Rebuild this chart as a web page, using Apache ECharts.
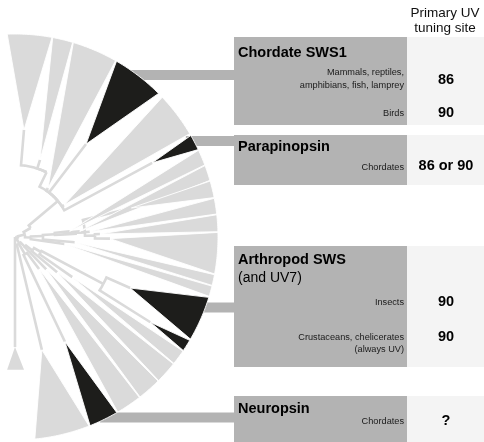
<!DOCTYPE html>
<html>
<head>
<meta charset="utf-8">
<script src="https://cdn.jsdelivr.net/npm/echarts@6/dist/echarts.min.js"></script>
<style>
  html, body { margin: 0; padding: 0; background: #ffffff; }
  #chart { width: 484px; height: 442px; }
</style>
</head>
<body>
<div id="chart"></div>
<script>
// Outer rim of the fan, in radius-axis units
const RIM = 203;

// Collapsed clades: [apexRadius, apexAngle, rimFrom, rimTo, highlighted]
const clades = [
  [107.4, 85.2, 92.2, 79.5, 0],
  [81, 72.0, 79.3, 73.5, 0],
  [59, 56.0, 73.3, 60.3, 0],
  [117, 52.6, 60.0, 45.0, 1],   // chordate SWS1
  [58.5, 33.1, 43.5, 30.6, 0],
  [156, 28.4, 30.0, 25.5, 1],   // parapinopsin
  [55, 6.0, 25.3, 20.8, 0],
  [65, 5.0, 20.6, 16.2, 0],
  [120, 14.0, 16.0, 11.2, 0],
  [75, 4.0, 11.0, 6.5, 0],
  [85, 2.0, 6.3, 1.5, 0],
  [95, -1.0, 1.3, -10.5, 0],
  [60, -5.0, -10.7, -13.8, 0],
  [50, -8.0, -14.0, -17.0, 0],
  [126, -23.9, -17.3, -30.2, 1], // insects
  [160, -32.2, -30.6, -34.0, 1], // crustaceans, chelicerates
  [70, -35.0, -34.2, -38.5, 0],
  [55, -40.0, -38.7, -45.0, 0],
  [45, -46.0, -45.2, -52.0, 0],
  [40, -53.0, -52.2, -59.6, 0],
  [116, -64.5, -59.9, -68.3, 1], // neuropsin
  [116, -76.6, -68.6, -84.4, 0]
];

// Tree branches: [parentRadius, parentAngle, childRadius, childAngle]
const branches = [
  [0, -90, 110, -90],
  [0, -90, 3, -20],
  [3, -20, 8, -55], [3, -20, 10, 15],
  // lower group
  [8, -55, 116, -76.6], [8, -55, 20, -60], [8, -55, 14, -45],
  [20, -60, 116, -64.5], [20, -60, 40, -53],
  [14, -45, 45, -46], [14, -45, 22, -38],
  [22, -38, 55, -40], [22, -38, 30, -30],
  [30, -30, 70, -35], [30, -30, 100, -28],
  [100, -28, 126, -23.9], [100, -28, 160, -32.2],
  // middle ladder
  [10, 15, 16, -2],
  [16, -2, 50, -8], [16, -2, 28, 2],
  [28, 2, 60, -5], [28, 2, 40, 4],
  [40, 4, 55, 6], [40, 4, 50, 3],
  [50, 3, 65, 5], [50, 3, 62, 3],
  [62, 3, 75, 4], [62, 3, 70, 4],
  [70, 4, 120, 14], [70, 4, 80, 1],
  [80, 1, 85, 2], [80, 1, 95, -1],
  // upper group
  [10, 15, 18, 30],
  [18, 30, 56, 40],
  [56, 40, 58.5, 33.1], [56, 40, 156, 28.4],
  [56, 40, 117, 52.6], [56, 40, 59, 56],
  [56, 40, 72, 64],
  [72, 64, 81, 72], [72, 64, 107.4, 85.2]
];

// Outgroup clade: [apexRadius, apexAngle, baseRadius, baseFrom, baseTo]
const outgroup = [[110, -90, 133, -93.4, -86.1]];

// Opsin groups and their primary UV tuning sites
const groupNames = ['Chordate SWS1', 'Parapinopsin', 'Arthropod SWS', 'Neuropsin'];
const groupNotes = ['', '', '(and UV7)', ''];
const subgroupLabels = [
  ['Mammals, reptiles,\namphibians, fish, lamprey', 'Birds'],
  ['Chordates'],
  ['Insects', 'Crustaceans, chelicerates\n(always UV)'],
  ['Chordates']
];
const tuningSites = [['86', '90'], ['86 or 90'], ['90', '90'], ['?']];
const siteHeader = 'Primary UV\ntuning site';

const GREY = '#dadada';
const BLACK = '#1d1d1b';
const BOX = '#b3b3b3';
const PANEL = '#f4f4f4';
const FONT = '"Liberation Sans", Arial, Helvetica, sans-serif';

const chart = echarts.init(document.getElementById('chart'), null, { renderer: 'canvas' });

function arcPoints(api, r, a0, a1, step) {
  const pts = [];
  const n = Math.max(1, Math.ceil(Math.abs(a1 - a0) / step));
  for (let i = 0; i <= n; i++) pts.push(api.coord([r, a0 + (a1 - a0) * i / n]));
  return pts;
}

function renderClade(params, api) {
  const pts = [api.coord([api.value(0), api.value(1)])]
    .concat(arcPoints(api, RIM, api.value(2), api.value(3), 0.5));
  return {
    type: 'polygon',
    shape: { points: pts },
    style: { fill: api.value(4) ? BLACK : GREY, stroke: '#ffffff', lineWidth: 0.9 }
  };
}

function renderBranch(params, api) {
  const pts = arcPoints(api, api.value(0), api.value(1), api.value(3), 1);
  pts.push(api.coord([api.value(2), api.value(3)]));
  return {
    type: 'polyline',
    shape: { points: pts },
    style: { stroke: GREY, lineWidth: 2.6, fill: null, lineJoin: 'miter' }
  };
}

function renderOutgroup(params, api) {
  return {
    type: 'polygon',
    shape: { points: [
      api.coord([api.value(0), api.value(1)]),
      api.coord([api.value(2), api.value(3)]),
      api.coord([api.value(2), api.value(4)])
    ] },
    style: { fill: GREY }
  };
}

// Right-hand panel layout (pixels)
const PANEL_X = 234, PANEL_SPLIT = 407, PANEL_END = 484;
const LABEL_RIGHT = 404, SITE_X = 446, TITLE_X = 238;
const boxLayout = [
  { top: 37, bottom: 125, link: 75, titleY: 53, rows: [
    { labelY: 78.5, lh: 13, siteY: 79.5 }, { labelY: 113, siteY: 112.5 }] },
  { top: 135, bottom: 185, link: 141, titleY: 147, rows: [
    { labelY: 167, siteY: 166 }] },
  { top: 246, bottom: 367, link: 307.5, titleY: 260, noteY: 278.5, rows: [
    { labelY: 302, siteY: 302 }, { labelY: 343.5, lh: 11.6, siteY: 337 }] },
  { top: 396, bottom: 446, link: 417.5, titleY: 409, rows: [
    { labelY: 421, siteY: 421 }] }
];
const CX = 15, CY = 237;

const graphics = [];
graphics.push({
  type: 'text', x: SITE_X - 1, y: 21, z: 5,
  style: { text: siteHeader, font: '13.5px ' + FONT, fill: '#111', align: 'center', verticalAlign: 'middle', lineHeight: 15.5 }
});
boxLayout.forEach((b, i) => {
  const rimX = CX + Math.sqrt(RIM * RIM - (CY - b.link) * (CY - b.link));
  graphics.push({ type: 'rect', z: 0, shape: { x: rimX - 8, y: b.link - 5, width: PANEL_X - rimX + 10, height: 10 }, style: { fill: BOX } });
  graphics.push({ type: 'rect', z: 1, shape: { x: PANEL_X, y: b.top, width: PANEL_SPLIT - PANEL_X, height: b.bottom - b.top }, style: { fill: BOX } });
  graphics.push({ type: 'rect', z: 1, shape: { x: PANEL_SPLIT, y: b.top, width: PANEL_END - PANEL_SPLIT, height: b.bottom - b.top }, style: { fill: PANEL } });
  graphics.push({ type: 'text', z: 5, x: TITLE_X, y: b.titleY,
    style: { text: groupNames[i], font: 'bold 14.5px ' + FONT, fill: '#000', align: 'left', verticalAlign: 'middle' } });
  if (groupNotes[i]) {
    graphics.push({ type: 'text', z: 5, x: TITLE_X, y: b.noteY,
      style: { text: groupNotes[i], font: '14px ' + FONT, fill: '#000', align: 'left', verticalAlign: 'middle' } });
  }
  b.rows.forEach((r, j) => {
    graphics.push({ type: 'text', z: 5, x: LABEL_RIGHT, y: r.labelY,
      style: { text: subgroupLabels[i][j], font: '9.2px ' + FONT, fill: '#1a1a1a', align: 'right', verticalAlign: 'middle', lineHeight: r.lh || 12 } });
    graphics.push({ type: 'text', z: 5, x: SITE_X, y: r.siteY,
      style: { text: tuningSites[i][j], font: 'bold 14.5px ' + FONT, fill: '#000', align: 'center', verticalAlign: 'middle' } });
  });
});

const hidden = { axisLine: { show: false }, axisTick: { show: false }, axisLabel: { show: false }, splitLine: { show: false }, splitArea: { show: false } };

chart.setOption({
  animation: false,
  backgroundColor: '#ffffff',
  polar: { center: [CX, CY], radius: RIM },
  angleAxis: Object.assign({ type: 'value', min: -180, max: 180, startAngle: 180, clockwise: false }, hidden),
  radiusAxis: Object.assign({ type: 'value', min: 0, max: RIM }, hidden),
  graphic: { elements: graphics },
  series: [
    { type: 'custom', coordinateSystem: 'polar', z: 3, silent: true, renderItem: renderBranch, data: branches, encode: { radius: 0, angle: 1 } },
    { type: 'custom', coordinateSystem: 'polar', z: 4, silent: true, renderItem: renderOutgroup, data: outgroup, encode: { radius: 0, angle: 1 } },
    { type: 'custom', coordinateSystem: 'polar', z: 5, silent: true, renderItem: renderClade, data: clades, encode: { radius: 0, angle: 1 } }
  ]
});
</script>
</body>
</html>
